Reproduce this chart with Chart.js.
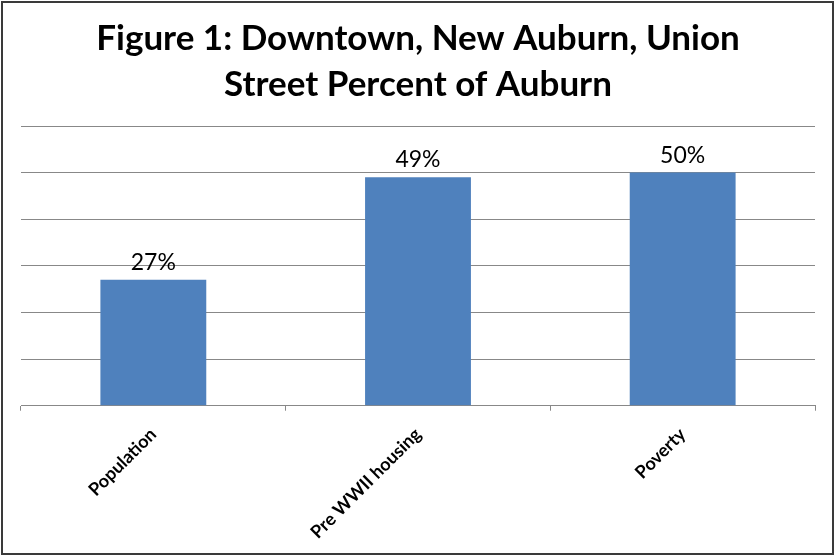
<!DOCTYPE html>
<html>
<head>
<meta charset="utf-8">
<script src="https://cdn.jsdelivr.net/npm/chart.js@4/dist/chart.umd.min.js"></script>
<style>
  html, body { margin: 0; padding: 0; background: #fff; }
  #wrap { width: 835px; height: 556px; position: relative; }
</style>
</head>
<body>
<div id="wrap"><canvas id="figure1" width="835" height="556"></canvas></div>
<script>
(function () {

// -------------------------------------------------------------------------------------------------------

var categories = ["Population", "Pre WWII housing", "Poverty"];
var percentOfAuburn = [27, 49, 50];
var titleLines = ["Figure 1: Downtown, New Auburn, Union", "Street Percent of Auburn"];

var barColor = "#4F81BD";
var gridColor = "#888888";

// outer frame + white background
var framePlugin = {
    id: "frame",
    beforeDraw: function (chart) {
        var ctx = chart.ctx;
        ctx.save();
        ctx.fillStyle = "#ffffff";
        ctx.fillRect(0, 0, chart.width, chart.height);
        ctx.restore();
    },
    afterDraw: function (chart) {
        var ctx = chart.ctx;
        ctx.save();
        ctx.strokeStyle = "#3a3a3a";
        ctx.lineWidth = 2;
        ctx.strokeRect(2, 2, chart.width - 4, chart.height - 4);
        ctx.restore();
    }
};

// percent labels above each bar
var valueLabels = {
    id: "valueLabels",
    afterDatasetsDraw: function (chart) {
        var ctx = chart.ctx;
        var meta = chart.getDatasetMeta(0);
        ctx.save();
        ctx.fillStyle = "#000000";
        ctx.font = "23px Lato, sans-serif";
        ctx.textAlign = "center";
        ctx.textBaseline = "bottom";
        meta.data.forEach(function (bar, i) {
            ctx.fillText(percentOfAuburn[i] + "%", bar.x, bar.y - 6);
        });
        ctx.restore();
    }
};

try {
    var canvas = document.getElementById("figure1");
    var ctx = canvas.getContext("2d");

    new Chart(ctx, {
        type: "bar",
        data: {
            labels: categories,
            datasets: [{
                data: percentOfAuburn,
                backgroundColor: barColor,
                borderWidth: 0,
                categoryPercentage: 1.0,
                barPercentage: 0.4
            }]
        },
        options: {
            responsive: false,
            animation: false,
            layout: { padding: { left: 21, right: 20, top: 8, bottom: 0 } },
            plugins: {
                legend: { display: false },
                tooltip: { enabled: false },
                title: {
                    display: true,
                    text: titleLines,
                    color: "#000000",
                    font: { family: "Lato", size: 35, weight: "bold", lineHeight: 1.3 },
                    padding: { top: 8, bottom: 19 }
                }
            },
            scales: {
                x: {
                    grid: {
                        display: true,
                        drawOnChartArea: false,
                        drawTicks: true,
                        tickLength: 5,
                        color: gridColor,
                        offset: true
                    },
                    border: { display: true, color: gridColor, width: 1 },
                    ticks: {
                        color: "#000000",
                        font: { family: "Lato", size: 18, weight: "bold" },
                        minRotation: 45,
                        maxRotation: 45,
                        padding: 13
                    }
                },
                y: {
                    min: 0,
                    max: 60,
                    ticks: { display: false, stepSize: 10 },
                    grid: { color: gridColor, drawTicks: false, lineWidth: 1 },
                    border: { display: false }
                }
            }
        },
        plugins: [framePlugin, valueLabels]
    });
} catch (e) {
    console.log("Error in figure1: " + e);
}

// -------------------------------------------------------------------------------------------------------

})();
</script>
</body>
</html>
